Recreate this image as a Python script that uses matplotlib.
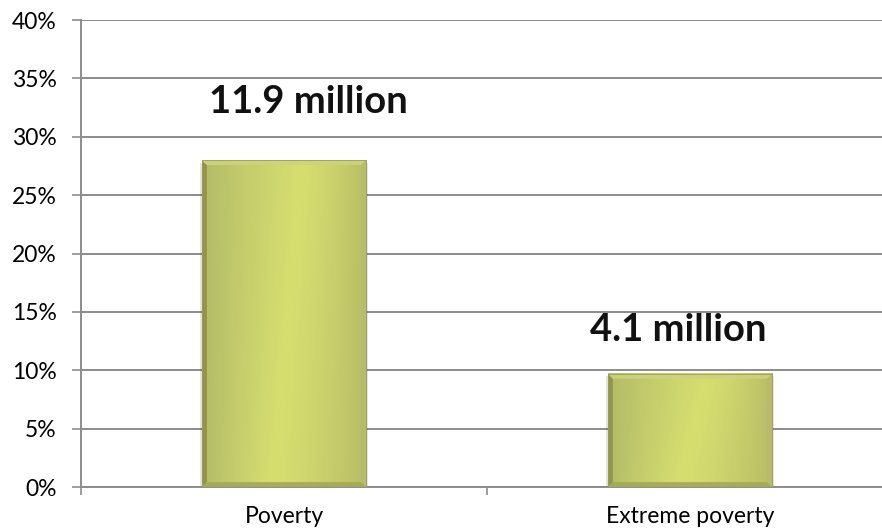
import numpy as np
import matplotlib
matplotlib.use("Agg")
from matplotlib import pyplot as plt
from matplotlib.patches import Rectangle, Polygon

categories = ["Poverty", "Extreme poverty"]
shares = [28.0, 9.7]            # percent of population
labels = ["11.9 million", "4.1 million"]
yticks = [0, 5, 10, 15, 20, 25, 30, 35, 40]

plt.rcParams['font.family'] = ['Lato', 'DejaVu Sans']

fig = plt.figure(figsize=(8.82, 5.30), dpi=100)
ax = fig.add_axes([0.0918, 0.0811, 0.9206, 0.881])

x = np.arange(len(categories))
bars = ax.bar(x, shares, width=0.404, color='none', edgecolor='none', zorder=3)

ax.set_xlim(-0.5, 1.5)
ax.set_ylim(0, 40)

# shaded face for each bar: light band that drifts left towards the bottom
def bar_face(nx=200, ny=120):
    u = np.linspace(0, 1, nx)[None, :]
    v = np.linspace(0, 1, ny)[:, None]      # 0 = bottom, 1 = top
    left = np.array([176, 184, 104]) / 255
    mid = np.array([214, 222, 112]) / 255
    right = np.array([184, 188, 102]) / 255
    c = 0.42 + 0.18 * v                     # centre of the light band
    k_left = np.clip(u / c, 0, 1) ** 0.8
    k_right = np.clip((u - c) / (1 - c), 0, 1) ** 1.4
    img = np.where((u < c)[..., None],
                   left + (mid - left) * k_left[..., None],
                   mid + (right - mid) * k_right[..., None])
    return img[::-1]

face = bar_face()
for rect in bars:
    x0, y0 = rect.get_x(), rect.get_y()
    w, h = rect.get_width(), rect.get_height()
    x1, y1 = x0 + w, y0 + h
    # soft drop shadow
    ax.add_patch(Rectangle((x0 - 0.004, y0 - 0.1), w + 0.008, h - 0.1, facecolor='#000000',
                           alpha=0.10, edgecolor='none', zorder=2))
    ax.imshow(face, extent=(x0, x1, y0, y1), aspect='auto', zorder=3,
              interpolation='bilinear')
    # bevel rims
    bx = 0.012
    by = bx * (40 / 2.0) * (812 / 467)
    ax.add_patch(Polygon([(x0, y0), (x0 + bx, y0 + by), (x0 + bx, y1 - by), (x0, y1)],
                         closed=True, facecolor='#8a9044', edgecolor='none', alpha=0.85, zorder=4))
    ax.add_patch(Polygon([(x0, y1), (x0 + bx, y1 - by), (x1 - bx, y1 - by), (x1, y1)],
                         closed=True, facecolor='#cdd37e', edgecolor='none', alpha=0.9, zorder=4))
    ax.add_patch(Polygon([(x1, y1), (x1 - bx, y1 - by), (x1 - bx, y0 + by), (x1, y0)],
                         closed=True, facecolor='#b7bc6c', edgecolor='none', alpha=0.9, zorder=4))
    ax.add_patch(Polygon([(x0, y0), (x0 + bx, y0 + by), (x1 - bx, y0 + by), (x1, y0)],
                         closed=True, facecolor='#a2a856', edgecolor='none', alpha=0.9, zorder=4))
    ax.add_patch(Rectangle((x0, y0), w, h, facecolor='none', edgecolor='#9a9e5a',
                           linewidth=0.6, zorder=5))

# value labels above the bars
label_dx = [0.059, -0.03]
label_dy = [5.0, 3.75]
for xi, val, txt, dx, dy in zip(x, shares, labels, label_dx, label_dy):
    ax.text(xi + dx, val + dy, txt, ha='center', va='center', fontsize=27.5,
            fontweight='bold', color='#111111', zorder=6)

ax.set_yticks(yticks)
ax.set_yticklabels([f"{v}%" for v in yticks])
ax.yaxis.grid(True, color='#8c8c8c', linewidth=1.4, zorder=1)
ax.set_axisbelow(True)

ax.set_xticks(x)
ax.set_xticklabels(categories)
ax.set_xticks([-0.5, 0.5, 1.5], minor=True)
ax.tick_params(axis='x', which='major', length=0, pad=14, labelsize=16.5)
ax.tick_params(axis='x', which='minor', length=6, width=1.2, color='#8c8c8c')
ax.tick_params(axis='y', length=6.5, width=1.2, color='#8c8c8c', pad=11, labelsize=16.5)

for side in ['top', 'right']:
    ax.spines[side].set_visible(False)
for side in ['left', 'bottom']:
    ax.spines[side].set_color('#8c8c8c')
    ax.spines[side].set_linewidth(1.4)

fig.savefig("out.png", dpi=100)
